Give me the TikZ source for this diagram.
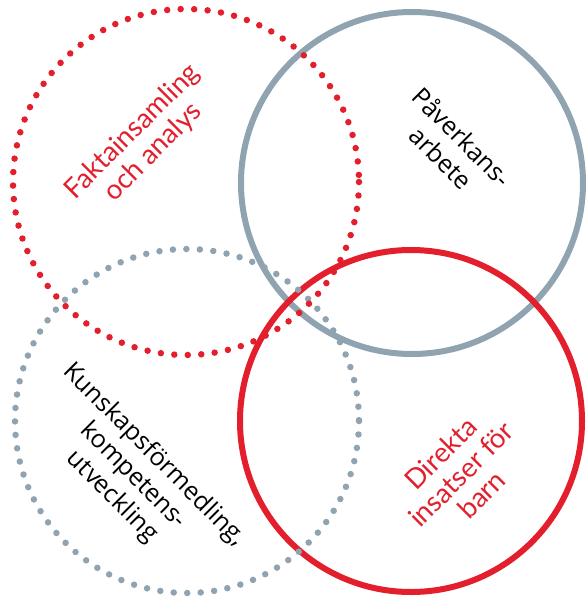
\documentclass[tikz,border=0pt]{standalone}
\usepackage{fontspec}
\setmainfont{Open Sans}
\newfontfamily\redfont{Lato}
\definecolor{vred}{HTML}{E31E2D}
\definecolor{vgray}{HTML}{8FA3B1}
\begin{document}
\begin{tikzpicture}[x=1pt,y=-1pt,
  solidring/.style={line width=6pt},
  dotring/.style={line width=6.5pt,line cap=round,dash pattern=on 0pt off 13.5pt},
  redlabel/.style={text=vred,font=\redfont\fontsize{27.5}{29}\selectfont,align=center,inner sep=0pt},
  blacklabel/.style={text=black,font=\fontsize{25}{29.5}\selectfont,align=center,inner sep=0pt}]
\useasboundingbox (0,0) rectangle (586,597);
\coordinate (cA) at (186,182);
\coordinate (cB) at (412,183);
\coordinate (cC) at (187,421);
\coordinate (cD) at (411,421);
\draw[solidring,vgray] (cB) circle[radius=171];
\draw[solidring,vred] (cD) circle[radius=171];
\draw[dotring,vgray] (cC) circle[radius=172];
\draw[dotring,vred] (cA) circle[radius=173];
\node[redlabel,rotate=45] (fa) at (143,142) {Faktainsamling\\och analys};
\node[blacklabel,rotate=-45] (pa) at (452,147) {Påverkans-\\arbete};
\node[blacklabel,rotate=-45] (ku) at (133,476) {Kunskapsförmedling,\\kompetens-\\utveckling};
\node[redlabel,rotate=45] (di) at (461,474) {Direkta\\insatser för\\barn};
\end{tikzpicture}
\end{document}
